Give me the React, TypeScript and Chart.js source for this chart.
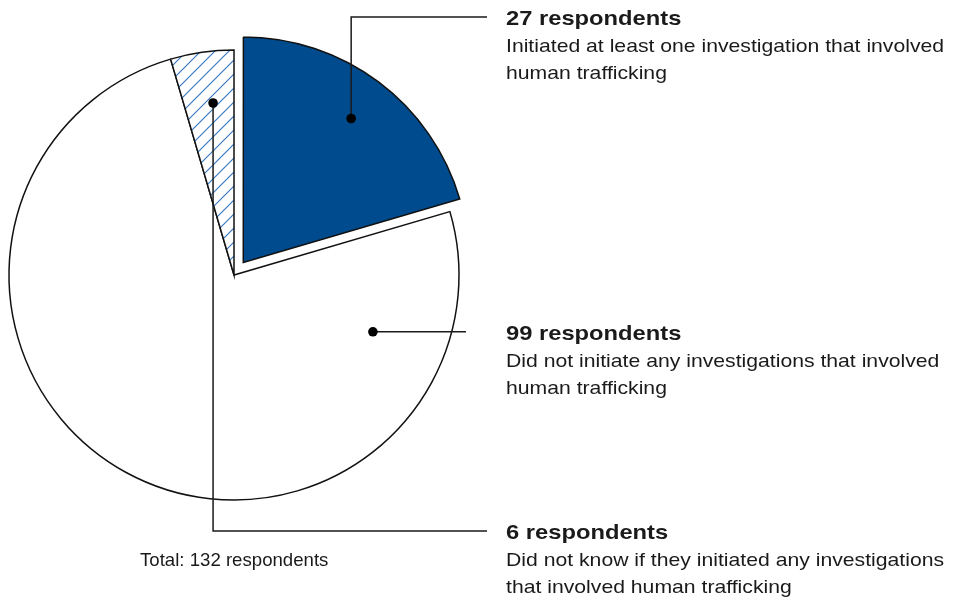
import React, { useEffect, useRef } from 'react';
import { Chart, registerables } from 'chart.js';

Chart.register(...registerables);

// ---- Data ----
const categories = ['27 respondents', '99 respondents', '6 respondents'];
const values = [27, 99, 6];
const descriptions = [
  ['Initiated at least one investigation that involved', 'human trafficking'],
  ['Did not initiate any investigations that involved', 'human trafficking'],
  ['Did not know if they initiated any investigations', 'that involved human trafficking'],
];
const totalLabel = 'Total: ' + values.reduce((a, b) => a + b, 0) + ' respondents';

// ---- Styling / layout config ----
const BLUE = '#004b8d';
const HATCH = '#3a7ac2';
const INK = '#1a1a1a';
const FONT = '"Liberation Sans", Arial, Helvetica, sans-serif';
const PIE_RADIUS = 225;
// Chart.js 4 draws arc offset as offset/4 pixels
const EXPLODE = [62, 0, 0];
// where the dot sits inside each slice (fraction of angle, fraction of radius)
const DOT_ANGLE_FRAC = [0.5, 0.143, 0.576];
const DOT_RADIUS_FRAC = [0.8, 0.667, 0.77];
// leader routing
const LEADER_ROUTE = ['up', 'right', 'down'];
const LEADER_Y = [17, null, 531];
const LEADER_END_X = [487, 466, 487];
const TEXT_X = 506;

function makeHatch(): CanvasPattern | string {
  const c = document.createElement('canvas');
  const s = 14;
  c.width = s;
  c.height = s;
  const g = c.getContext('2d');
  if (!g) return '#ffffff';
  g.fillStyle = '#ffffff';
  g.fillRect(0, 0, s, s);
  g.strokeStyle = HATCH;
  g.lineWidth = 1.2;
  g.beginPath();
  g.moveTo(-2, s + 2);
  g.lineTo(s + 2, -2);
  g.moveTo(-2, 2);
  g.lineTo(2, -2);
  g.moveTo(s - 2, s + 2);
  g.lineTo(s + 2, s - 2);
  g.stroke();
  const p = g.createPattern(c, 'repeat');
  return p || '#ffffff';
}

function drawScaledText(ctx: CanvasRenderingContext2D, text: string, x: number, y: number, font: string, sx: number) {
  ctx.save();
  ctx.translate(x, y);
  ctx.scale(sx, 1);
  ctx.font = font;
  ctx.fillText(text, 0, 0);
  ctx.restore();
}

const labelPlugin = {
  id: 'leaderLabels',
  afterDraw(chart: any) {
    const ctx: CanvasRenderingContext2D = chart.ctx;
    const meta = chart.getDatasetMeta(0);
    ctx.save();
    meta.data.forEach((arc: any, i: number) => {
      const { x, y, startAngle, endAngle, outerRadius } = arc.getProps(
        ['x', 'y', 'startAngle', 'endAngle', 'outerRadius'],
        true
      );
      const off = (arc.options.offset || 0) / 4;
      const mid = (startAngle + endAngle) / 2;
      const cx = x + Math.cos(mid) * off;
      const cy = y + Math.sin(mid) * off;
      const a = startAngle + DOT_ANGLE_FRAC[i] * (endAngle - startAngle);
      const r = DOT_RADIUS_FRAC[i] * outerRadius;
      const dx = cx + Math.cos(a) * r;
      const dy = cy + Math.sin(a) * r;

      const lineY = LEADER_Y[i] == null ? dy : (LEADER_Y[i] as number);
      ctx.strokeStyle = INK;
      ctx.lineWidth = 1.5;
      ctx.beginPath();
      ctx.moveTo(dx, dy);
      if (LEADER_ROUTE[i] !== 'right') {
        ctx.lineTo(dx, lineY);
      }
      ctx.lineTo(LEADER_END_X[i], lineY);
      ctx.stroke();

      ctx.fillStyle = '#000000';
      ctx.beginPath();
      ctx.arc(dx, dy, 4.8, 0, Math.PI * 2);
      ctx.fill();

      ctx.fillStyle = INK;
      ctx.textBaseline = 'alphabetic';
      ctx.textAlign = 'left';
      drawScaledText(ctx, categories[i], TEXT_X, lineY + 8, `bold 21px ${FONT}`, 1.13);
      descriptions[i].forEach((line, j) => {
        drawScaledText(ctx, line, TEXT_X, lineY + 35 + j * 27, `19px ${FONT}`, 1.115);
      });
    });
    ctx.fillStyle = INK;
    drawScaledText(ctx, totalLabel, 140, 566, `19px ${FONT}`, 0.98);
    ctx.restore();
  },
};

export default function App() {
  const ref = useRef<HTMLCanvasElement | null>(null);
  useEffect(() => {
    if (!ref.current) return;
    const hatch = makeHatch();
    const chart = new Chart(ref.current, {
      type: 'pie',
      data: {
        labels: categories,
        datasets: [
          {
            data: values,
            backgroundColor: [BLUE, '#ffffff', hatch as any],
            borderColor: '#111111',
            borderWidth: 1.5,
            borderJoinStyle: 'miter',
            offset: EXPLODE,
            radius: PIE_RADIUS,
          } as any,
        ],
      },
      options: {
        responsive: false,
        animation: false,
        events: [],
        layout: { padding: { left: 0, top: 0, right: 496, bottom: 52 } },
        plugins: {
          legend: { display: false },
          tooltip: { enabled: false },
        },
      },
      plugins: [labelPlugin],
    });
    return () => chart.destroy();
  }, []);
  return (
    <div style={{ position: 'absolute', left: 0, top: 0, width: 964, height: 602, background: '#ffffff' }}>
      <canvas ref={ref} width={964} height={602} style={{ display: 'block', width: 964, height: 602 }} />
    </div>
  );
}
